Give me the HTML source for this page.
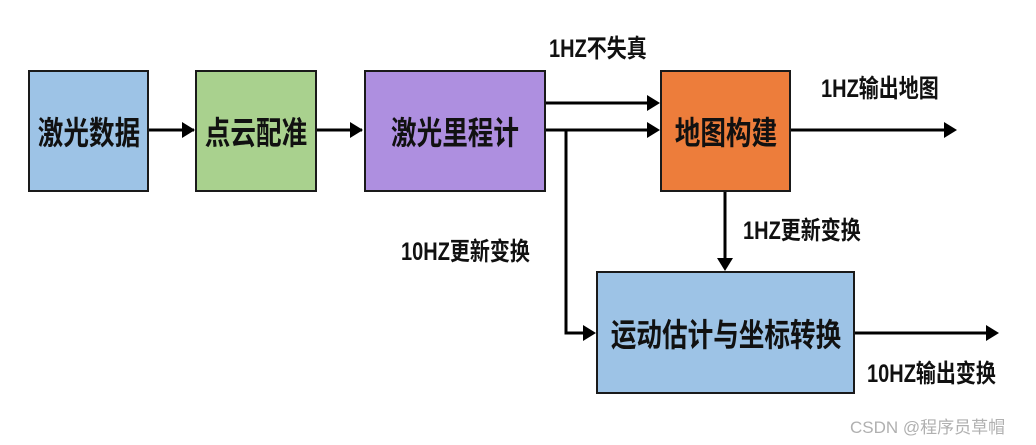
<!DOCTYPE html>
<html><head><meta charset="utf-8"><style>
body{margin:0;width:1036px;height:445px;background:#fff;position:relative;overflow:hidden;font-family:"Liberation Sans","Noto Sans CJK SC",sans-serif}
.b{position:absolute;box-sizing:border-box;border:2px solid #1a1a1a;display:flex;align-items:center;justify-content:center}
.b span{font-size:32px;font-weight:bold;transform:scaleX(0.8);white-space:nowrap;color:#111}
.l{position:absolute;font-size:25px;font-weight:bold;white-space:nowrap;transform:scaleX(0.8);transform-origin:left center;color:#111;line-height:28px}
</style></head><body>
<div class="b" style="left:28px;top:70px;width:121px;height:122px;background:#9dc3e6"><span>激光数据</span></div>
<div class="b" style="left:195px;top:70px;width:122px;height:122px;background:#a9d18e"><span>点云配准</span></div>
<div class="b" style="left:364px;top:70px;width:182px;height:122px;background:#ae8fe0"><span>激光里程计</span></div>
<div class="b" style="left:660px;top:70px;width:131px;height:122px;background:#ed7d3b"><span>地图构建</span></div>
<div class="b" style="left:596px;top:271px;width:259px;height:123px;background:#9dc3e6"><span>运动估计与坐标转换</span></div>
<svg width="1036" height="445" style="position:absolute;left:0;top:0" fill="none" stroke="#000" stroke-width="3">
<g>
<line x1="149" y1="130" x2="194" y2="130"/><path d="M182,122L195,130L182,138z" fill="#000" stroke="none"/>
<line x1="317" y1="130" x2="362" y2="130"/><path d="M350,122L363,130L350,138z" fill="#000" stroke="none"/>
<line x1="546" y1="103" x2="648" y2="103"/><path d="M647,95L660,103L647,111z" fill="#000" stroke="none"/>
<line x1="546" y1="130" x2="648" y2="130"/><path d="M647,122L660,130L647,138z" fill="#000" stroke="none"/>
<polyline points="566,130 566,333 584,333"/><path d="M583,325L596,333L583,341z" fill="#000" stroke="none"/>
<line x1="725" y1="192" x2="725" y2="259"/><path d="M717,258L725,271L733,258z" fill="#000" stroke="none"/>
<line x1="791" y1="130" x2="945" y2="130"/><path d="M944,122L957,130L944,138z" fill="#000" stroke="none"/>
<line x1="855" y1="333" x2="987" y2="333"/><path d="M986,325L999,333L986,341z" fill="#000" stroke="none"/>
</g></svg>
<div class="l" style="left:549px;top:35px">1HZ不失真</div>
<div class="l" style="left:821px;top:75px">1HZ输出地图</div>
<div class="l" style="left:743px;top:217px">1HZ更新变换</div>
<div class="l" style="left:401px;top:238px">10HZ更新变换</div>
<div class="l" style="left:867px;top:360px">10HZ输出变换</div>
<div style="position:absolute;left:850px;top:413px;font-size:17px;color:#b0b0b0;white-space:nowrap">CSDN @程序员草帽</div>
</body></html>
